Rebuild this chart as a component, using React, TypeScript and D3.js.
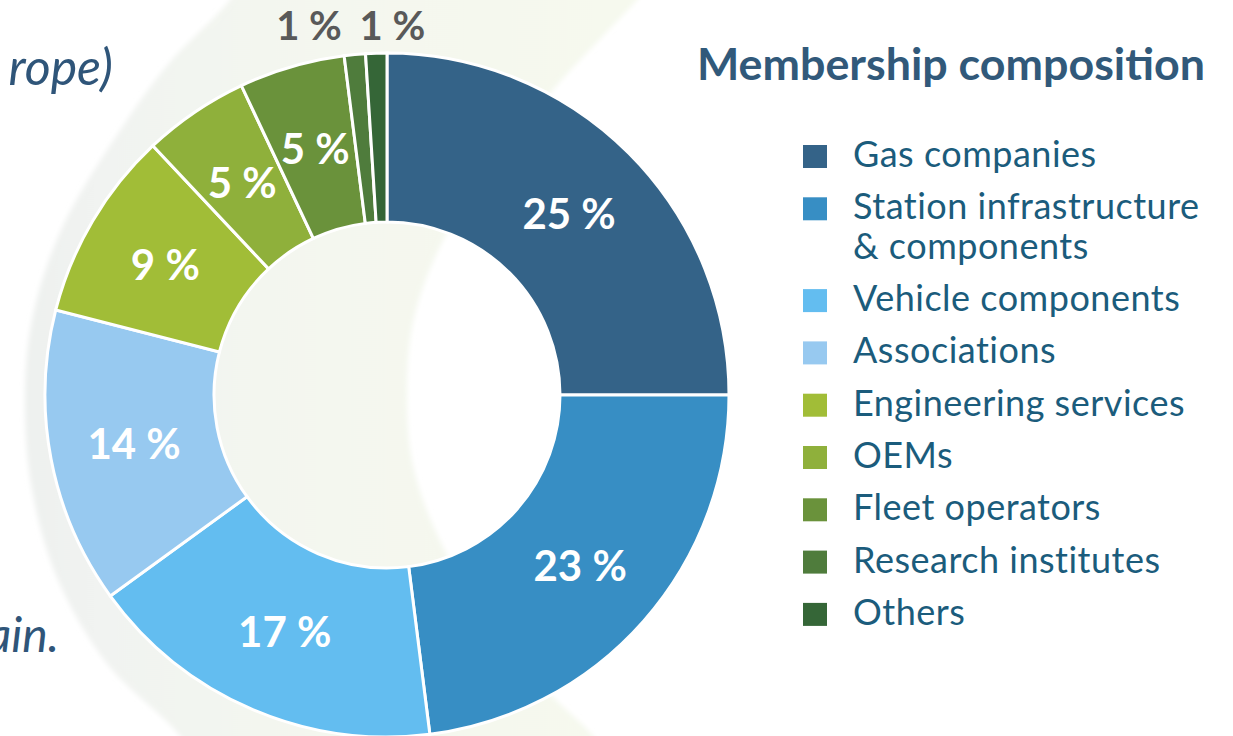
import React from 'react';
import * as d3 from 'd3';

// ---------- data ----------
const categories = [
  'Gas companies',
  'Station infrastructure & components',
  'Vehicle components',
  'Associations',
  'Engineering services',
  'OEMs',
  'Fleet operators',
  'Research institutes',
  'Others',
];
const legendLines = [
  ['Gas companies'],
  ['Station infrastructure', '& components'],
  ['Vehicle components'],
  ['Associations'],
  ['Engineering services'],
  ['OEMs'],
  ['Fleet operators'],
  ['Research institutes'],
  ['Others'],
];
const values = [25, 23, 17, 14, 9, 5, 5, 1, 1];
const palette = ['#346388', '#378ec4', '#63bdf0', '#97c9f0', '#a1bd37', '#8fb03b', '#6a923b', '#4f7c3c', '#356637'];
const title = 'Membership composition';
const sideTexts = ['rope)', 'ain.'];

// ---------- layout ----------
const W = 1233;
const H = 736;
const cx = 387;
const cy = 395;
const R = 342;
const r = 173;

// decorative background crescent (not data)
const crescentOuter: [number, number][] = [
  [255, -40], [230, 0], [170, 62], [127, 120], [62, 228], [32, 320], [25, 400], [32, 490], [58, 580], [108, 665], [180, 736], [205, 780],
];
const crescentInner: [number, number][] = [
  [620, 780], [593, 736], [553, 697], [498, 635], [447, 555], [414, 470], [407, 395], [414, 318], [447, 233], [500, 158], [553, 90], [637, 0], [672, -40],
];

export default function App() {
  const pie = d3.pie<number>().sort(null).value((d) => d);
  const arcs = pie(values);
  const arc = d3.arc<d3.PieArcDatum<number>>().innerRadius(r).outerRadius(R);
  const labelArc = d3.arc<d3.PieArcDatum<number>>().innerRadius((r + R) / 2).outerRadius((r + R) / 2);
  const outerLabelArc = d3.arc<d3.PieArcDatum<number>>().innerRadius(R + 30).outerRadius(R + 30);
  const smallDx = [-43, 17];

  const crescentPath = d3.line().curve(d3.curveCatmullRomClosed)([...crescentOuter, ...crescentInner]) || '';

  // legend layout
  const legendX = 803;
  const textX = 853;
  const firstBaseline = 167;
  const rowStep = 52.3;
  const wrapStep = 39.5;
  let yCursor = firstBaseline;
  const legendRows = legendLines.map((lines, i) => {
    const y = yCursor;
    yCursor += rowStep + (lines.length - 1) * wrapStep;
    return { lines, y, color: palette[i], key: categories[i] };
  });

  let smallIdx = 0;

  return (
    <svg
      width={W}
      height={H}
      style={{ position: 'absolute', left: 0, top: 0, background: '#ffffff' }}
      fontFamily="Lato, 'Open Sans', sans-serif"
    >
      <defs>
        <linearGradient id="cres" x1="0" y1="0" x2={650} y2="0" gradientUnits="userSpaceOnUse">
          <stop offset="0" stopColor="#edf0ee" />
          <stop offset="0.15" stopColor="#f1f3f1" />
          <stop offset="0.5" stopColor="#f4f7ef" />
          <stop offset="1" stopColor="#f6f9ee" />
        </linearGradient>
        <filter id="soft" x="-10%" y="-10%" width="120%" height="120%">
          <feGaussianBlur stdDeviation="2.5" />
        </filter>
      </defs>
      <rect x={0} y={0} width={W} height={H} fill="#ffffff" />
      <path d={crescentPath} fill="url(#cres)" filter="url(#soft)" />

      {/* cut-off side texts */}
      <text x={113} y={85} textAnchor="end" fontStyle="italic" fontSize={50} fill="#2f5579">
        {sideTexts[0]}
      </text>
      <text x={59} y={652} textAnchor="end" fontStyle="italic" fontSize={48} fill="#2f5579">
        {sideTexts[1]}
      </text>

      <g transform={`translate(${cx},${cy})`}>
        {arcs.map((a, i) => (
          <path key={categories[i]} d={arc(a) || ''} fill={palette[i]} stroke="#ffffff" strokeWidth={3} strokeLinejoin="miter" />
        ))}
        {arcs.map((a, i) => {
          if (values[i] <= 1) {
            const [x] = outerLabelArc.centroid(a);
            const dx = smallDx[smallIdx++] || 0;
            return (
              <text
                key={'l' + i}
                x={x + dx}
                y={40 - cy}
                textAnchor="middle"
                fontWeight={700}
                fontSize={40}
                fill="#595959"
              >
                {`${values[i]} %`}
              </text>
            );
          }
          const [x, y] = labelArc.centroid(a);
          return (
            <text
              key={'l' + i}
              x={x}
              y={y}
              textAnchor="middle"
              dominantBaseline="central"
              fontWeight={700}
              fontSize={42}
              fill="#ffffff"
            >
              {`${values[i]} %`}
            </text>
          );
        })}
      </g>

      <text x={697} y={80} fontWeight={700} fontSize={43} fill="#31597a" textLength={508} lengthAdjust="spacingAndGlyphs">
        {title}
      </text>

      {legendRows.map((row) => (
        <g key={row.key}>
          <rect x={legendX} y={row.y - 22} width={24} height={23} fill={row.color} />
          {row.lines.map((ln, j) => (
            <text key={j} x={textX} y={row.y + j * wrapStep} fontSize={36} letterSpacing={0.5} fill="#1b5c7c">
              {ln}
            </text>
          ))}
        </g>
      ))}
    </svg>
  );
}
